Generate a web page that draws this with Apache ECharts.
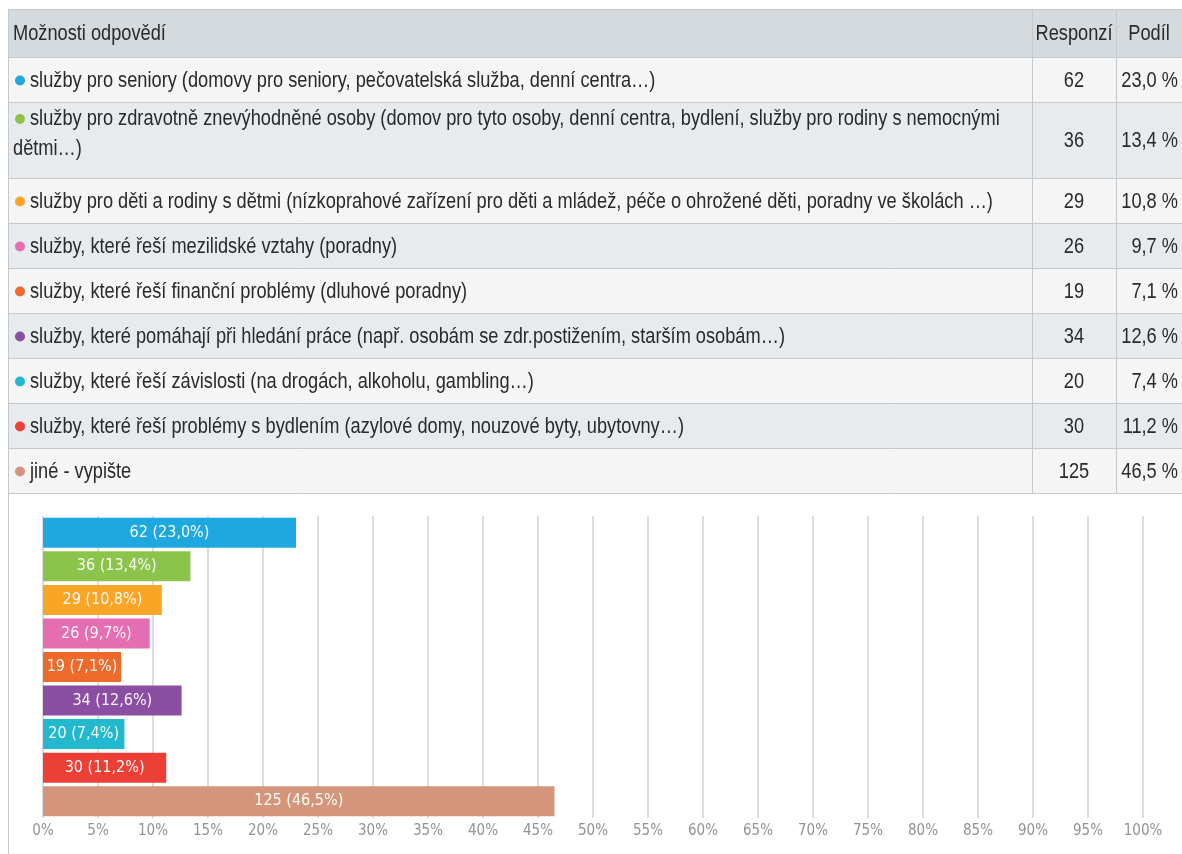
<!DOCTYPE html>
<html>
<head>
<meta charset="utf-8">
<script src="https://cdn.jsdelivr.net/npm/echarts@6/dist/echarts.min.js"></script>
<style>
html,body{margin:0;padding:0;background:#fff;}
#chart{width:1182px;height:854px;}
</style>
</head>
<body>
<div id="chart"></div>
<script>
// ---- data ----
const headers = ['Možnosti odpovědí', 'Responzí', 'Podíl'];
const categories = [
  'služby pro seniory (domovy pro seniory, pečovatelská služba, denní centra…)',
  'služby pro zdravotně znevýhodněné osoby (domov pro tyto osoby, denní centra, bydlení, služby pro rodiny s nemocnými dětmi…)',
  'služby pro děti a rodiny s dětmi (nízkoprahové zařízení pro děti a mládež, péče o ohrožené děti, poradny ve školách …)',
  'služby, které řeší mezilidské vztahy (poradny)',
  'služby, které řeší finanční problémy (dluhové poradny)',
  'služby, které pomáhají při hledání práce (např. osobám se zdr.postižením, starším osobám…)',
  'služby, které řeší závislosti (na drogách, alkoholu, gambling…)',
  'služby, které řeší problémy s bydlením (azylové domy, nouzové byty, ubytovny…)',
  'jiné - vypište'
];
const responses = [62, 36, 29, 26, 19, 34, 20, 30, 125];
const shares = [23.0, 13.4, 10.8, 9.7, 7.1, 12.6, 7.4, 11.2, 46.5];

// ---- styles / layout ----
const palette = ['#1ea8e0', '#8cc34b', '#faa526', '#e56db1', '#ee6a2a', '#8a4fa3', '#22b9cf', '#ec3f35', '#d3967a'];
const TFONT = '22px "Liberation Sans", Arial, sans-serif';
const SX = 0.828;        // horizontal squeeze of the table text
const CFONT = '"DejaVu Sans Condensed", "Liberation Sans", sans-serif';
const L = { left: 8, top: 9, right: 1182, headerH: 48, col1: 1032, col2: 1116, bottom: 854 };
const rowHeights = [45, 76, 45, 45, 45, 45, 45, 45, 45];
const border = '#c3c9cc';
const textColor = '#2a2a2a';
const LINE_H = 30;

function fmt(v) { return v.toFixed(1).replace('.', ','); }

const measureCtx = document.createElement('canvas').getContext('2d');
measureCtx.font = TFONT;
function wrap(text, firstMax, otherMax) {
  const words = text.split(' ');
  const lines = [];
  let cur = '';
  words.forEach(w => {
    const test = cur ? cur + ' ' + w : w;
    const max = lines.length === 0 ? firstMax : otherMax;
    if (cur && measureCtx.measureText(test).width * SX > max) {
      lines.push(cur);
      cur = w;
    } else {
      cur = test;
    }
  });
  if (cur) lines.push(cur);
  return lines;
}

function label(text, x, y, align, vAlign) {
  return {
    type: 'text', x: x, y: y, scaleX: SX, z: 10,
    style: { text: text, x: 0, y: 0, align: align, verticalAlign: vAlign, font: TFONT, fill: textColor }
  };
}

const g = [];
// header
g.push({ type: 'rect', shape: { x: L.left, y: L.top, width: L.right - L.left, height: L.headerH }, style: { fill: '#d4dadd' }, silent: true });
const hy = L.top + L.headerH / 2 + 1;
g.push(label(headers[0], L.left + 5, hy, 'left', 'middle'));
g.push(label(headers[1], (L.col1 + L.col2) / 2, hy, 'center', 'middle'));
g.push(label(headers[2], (L.col2 + L.right) / 2, hy, 'center', 'middle'));

let y = L.top + L.headerH;
const lineYs = [L.top, y];
const textX0 = 30, textX1 = L.left + 5, textRight = L.col1 - 14;
categories.forEach((c, i) => {
  const h = rowHeights[i];
  g.push({ type: 'rect', shape: { x: L.left, y: y, width: L.right - L.left, height: h }, style: { fill: i % 2 === 0 ? '#f5f5f5' : '#e8ebed' }, silent: true });
  const lines = wrap(c, textRight - textX0, textRight - textX1);
  const firstCy = y + h / 2 + 1 - (lines.length - 1) * LINE_H / 2 - (lines.length > 1 ? 7 : 0);
  g.push({ type: 'circle', shape: { cx: 20, cy: firstCy, r: 5 }, style: { fill: palette[i] }, z: 10 });
  lines.forEach((ln, k) => {
    g.push(label(ln, k === 0 ? textX0 : textX1, firstCy + k * LINE_H, 'left', 'middle'));
  });
  g.push(label(String(responses[i]), (L.col1 + L.col2) / 2, y + h / 2 + 1, 'center', 'middle'));
  g.push(label(fmt(shares[i]) + ' %', L.right - 4, y + h / 2 + 1, 'right', 'middle'));
  y += h;
  lineYs.push(y);
});
const tableBottom = y;
lineYs.forEach(ly => {
  g.push({ type: 'line', shape: { x1: L.left, y1: ly + 0.5, x2: L.right, y2: ly + 0.5 }, style: { stroke: border, lineWidth: 1 }, silent: true, z: 5 });
});
g.push({ type: 'line', shape: { x1: L.left + 0.5, y1: L.top, x2: L.left + 0.5, y2: L.bottom }, style: { stroke: border, lineWidth: 1 }, silent: true, z: 5 });
[L.col1, L.col2].forEach(cx => {
  g.push({ type: 'line', shape: { x1: cx + 0.5, y1: L.top, x2: cx + 0.5, y2: tableBottom }, style: { stroke: border, lineWidth: 1 }, silent: true, z: 5 });
});

const chart = echarts.init(document.getElementById('chart'), null, { renderer: 'canvas' });
chart.setOption({
  animation: false,
  backgroundColor: '#fff',
  graphic: { elements: g },
  grid: { left: 43, right: 39, top: 516, bottom: 36 },
  xAxis: {
    type: 'value', min: 0, max: 100, interval: 5,
    axisLine: { show: false }, axisTick: { show: false },
    axisLabel: { formatter: '{value}%', color: '#939393', fontSize: 15, fontFamily: CFONT, margin: 6 },
    splitLine: { show: true, lineStyle: { color: '#d2d2d2', width: 1.5 } }
  },
  yAxis: {
    type: 'category', inverse: true, data: categories,
    axisLine: { show: false }, axisTick: { show: false }, axisLabel: { show: false }
  },
  series: [{
    type: 'bar',
    data: shares.map((v, i) => ({ value: v, itemStyle: { color: palette[i] } })),
    barWidth: 30,
    label: {
      show: true, position: 'inside', color: 'rgba(255,255,255,0.95)', fontSize: 16, fontFamily: CFONT,
      formatter: p => responses[p.dataIndex] + ' (' + fmt(shares[p.dataIndex]) + '%)'
    }
  }]
});
</script>
</body>
</html>
